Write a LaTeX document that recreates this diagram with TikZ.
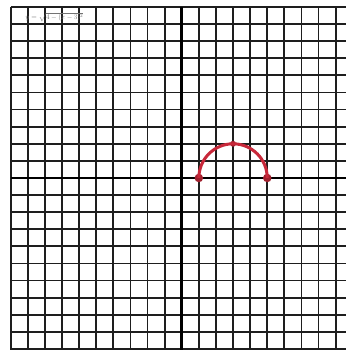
\documentclass[tikz,border=0pt]{standalone}
\usepackage{amsmath,amssymb}
\usepackage{tikz}
\usetikzlibrary{positioning}
\usepackage{xcolor}
\definecolor{inkred}{HTML}{C8283A}
\definecolor{gridink}{HTML}{1E1E1E}

\begin{document}
\begin{tikzpicture}[
  gridline/.style={draw=gridink, line width=3pt},
  axisline/.style={draw=black, line width=4.8pt},
  curve/.style={draw=inkred, line width=5pt},
  dot/.style={circle, fill=inkred!80!black, inner sep=0pt, minimum size=5mm},
  topdot/.style={dot, minimum size=3.5mm},
  eqlabel/.style={text=black!55, font=\fontsize{12}{13}\selectfont, inner sep=0pt}
]

% ---------------- Frame ----------------
\useasboundingbox (-10.63,-10.06) rectangle (9.61,10.41);
\fill[white] (-10.63,-10.06) rectangle (9.61,10.41);

% ---------------- Grid ----------------
\foreach \x in {-10,...,9}
  \draw[gridline] (\x,10) -- (\x,-10.06);
\foreach \y in {-10,...,10}
  \draw[gridline] (-10,\y) -- (9.61,\y);

% ---------------- Axes ----------------
\draw[axisline] (-10,0) -- (9.61,0);
\draw[axisline] (0,10) -- (0,-10.06);

% ---------------- Equation ----------------
\node[eqlabel] (eqn) at (-7.45,9.42) {$y=\sqrt{4-(x-3)^2}$};

% ---------------- Semicircle ----------------
\node[dot] (left)  at (1,0) {};
\node[topdot] (top) at (3,2) {};
\node[dot] (right) at (5,0) {};

\draw[curve] (left.center) arc[start angle=180, end angle=0, radius=2];

\end{tikzpicture}
\end{document}
